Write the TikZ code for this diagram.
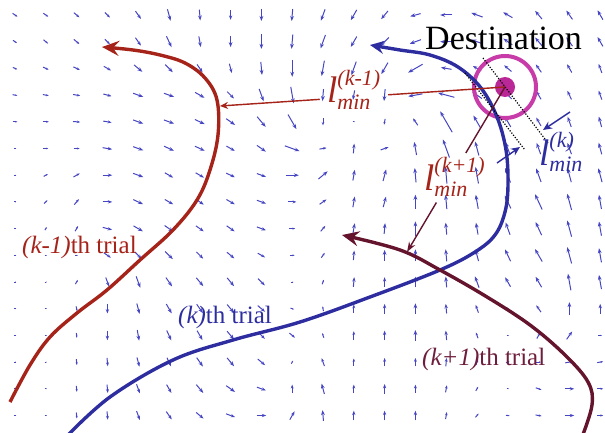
\documentclass[tikz,border=0pt]{standalone}
\usepackage{fontspec}
\setmainfont{Liberation Serif}
\usepackage{amsmath}
\usetikzlibrary{arrows.meta, calc}
\DeclareMathSizes{37}{37}{22}{16}
\definecolor{vecblue}{RGB}{70,70,195}
\definecolor{trialred}{RGB}{165,35,25}
\definecolor{trialblue}{RGB}{45,45,160}
\definecolor{trialplum}{RGB}{100,20,45}
\definecolor{plumtext}{RGB}{110,30,60}
\definecolor{destpink}{RGB}{200,60,170}
\definecolor{destdot}{RGB}{185,40,150}

\begin{document}
\begin{tikzpicture}[x=1pt, y=-1pt,
    trial/.style={line width=3.4pt},
    minline/.style={line width=1.4pt},
    lbl/.style={anchor=base west, inner sep=0pt, font=\fontsize{37}{40}\selectfont},
    triallbl/.style={anchor=base west, inner sep=0pt, font=\fontsize{25}{28}\selectfont}]
  \useasboundingbox (0,0) rectangle (605,433);

  \foreach \row [count=\j from 0] in {
    {-35/5,-35/5,-40/6,-45/6,-55/8,-75/10,-85/9,-90/8,-90/10,-95/10,-110/10,-120/10,-130/9,-165/9,180/10,160/10,150/9,130/9,125/9,120/9},
    {-35/4,-40/5,-40/6,-45/6,-55/8,-65/10,-80/9,-90/9,-90/12,-95/12,-110/12,-120/10,-135/10,-160/10,180/10,160/10,145/9,130/9,125/9,120/9},
    {-25/4,-25/5,-25/6,-30/7,-40/9,-45/9,-55/8,-75/8,-85/11,-90/14,-100/13,-110/12,-120/11,-150/14,170/9,150/8,140/8,125/8,120/8,110/8},
    {-10/4,-10/5,-10/6,-15/7,-20/9,-20/9,-30/9,-45/8,-70/11,-80/14,-95/10,-100/8,-95/10,-170/12,165/14,145/10,135/9,120/8,115/8,110/8},
    {0/4,0/5,-5/6,-10/7,-20/9,-20/9,-25/9,-35/9,-50/11,-60/14,-90/6,0/2,-100/5,125/7,120/20,120/12,120/10,120/8,110/9,105/9},
    {0/2,0/4,0/5,-10/8,-20/9,-25/9,-25/9,-30/8,-35/9,-20/13,10/6,85/8,20/7,100/11,110/16,105/12,110/11,110/10,110/10,105/10},
    {0/2,30/4,30/6,0/8,-20/9,-30/8,-30/8,-25/8,-20/8,0/11,40/10,80/9,75/10,95/12,95/14,100/14,110/13,110/12,105/12,105/12},
    {0/2,45/4,50/6,0/8,-25/9,-30/8,-35/8,-30/8,-20/8,0/7,35/7,80/9,75/9,90/12,95/12,100/12,115/12,115/14,105/14,100/12},
    {0/2,60/3,60/5,-15/8,-30/9,-35/9,-35/8,-35/8,-20/8,0/5,50/6,80/9,85/9,90/12,95/10,100/10,110/11,115/12,105/14,100/12},
    {0/2,0/2,0/2,-35/7,-45/8,-45/9,-45/8,-40/8,-30/7,0/4,55/5,85/8,90/9,90/10,95/10,105/10,115/11,120/12,105/14,100/12},
    {0/2,0/2,60/4,-70/8,-70/10,-55/9,-50/9,-50/9,-45/8,0/2,70/4,85/8,90/8,90/9,95/9,110/10,120/9,120/10,100/14,100/12},
    {0/2,0/2,-80/4,-90/8,-75/9,-60/9,-55/9,-50/9,-40/8,-20/3,100/4,90/7,90/8,90/9,95/8,110/7,150/4,125/7,90/11,90/8},
    {0/2,0/2,-85/4,-90/8,-80/9,-65/9,-60/9,-50/9,-45/8,-40/6,110/4,90/7,90/8,90/9,95/8,110/5,0/2,60/6,55/8,0/3},
    {0/2,0/2,-85/5,-85/7,-75/8,-65/8,-55/9,-50/9,-40/8,60/3,110/7,90/6,90/7,90/7,85/7,70/5,20/3,0/4,10/7,10/5},
    {0/2,0/2,-85/5,-85/7,-70/8,-60/8,-50/9,-35/9,-20/8,90/7,105/9,90/7,90/8,90/7,80/6,60/4,0/2,-20/5,0/8,0/5},
    {0/2,0/2,-85/5,-85/7,-70/8,-55/8,-40/8,-20/8,0/8,60/8,95/9,90/8,90/8,90/8,80/6,50/4,-5/3,-10/5,0/8,0/5}} {
    \foreach \ang/\len [count=\i from 0] in \row {
      \pgfmathsetmacro\h{0.6*\len}
      \pgfmathsetmacro\tl{min(5,0.55*\len)}
      \pgfmathsetmacro\tw{0.75*\tl}
      \draw[vecblue, line width=1pt, -{Stealth[length=\tl pt, width=\tw pt]}]
        ({15+30.8*\i},{15+26.7*\j}) +(\ang+180:\h pt) -- +(\ang:\h pt);
    }
  }

  \coordinate (dest) at (505,87);
  \coordinate (hitA) at (220,106);
  \coordinate (hitC) at (407,252);

  \draw[destpink, line width=4pt] (dest) circle[radius=31];
  \fill[destdot] (dest) circle[radius=10];

  \draw[trial, trialred, -{Stealth[length=17pt, width=15pt, inset=6pt]}]
    plot[smooth, tension=0.6] coordinates {(10,402) (30,365) (50,337) (77,313) (107,290) (140,260) (173,230)
      (197,200) (210,170) (218,135) (217,100) (205,78) (185,63) (160,55) (133,50) (102,47)};
  \draw[trial, trialblue, -{Stealth[length=14pt, width=13pt, inset=5pt]}]
    plot[smooth, tension=0.6] coordinates {(66,437) (110,397) (173,360) (233,340) (300,322) (370,297) (440,270)
      (475,252) (495,235) (505,212) (508,185) (506,150) (497,117) (481,88) (458,67) (430,55) (400,50) (370,45)};
  \draw[trial, trialplum, -{Stealth[length=17pt, width=15pt, inset=6pt]}]
    plot[smooth, tension=0.6] coordinates {(582,437) (592,405) (588,382) (565,355) (530,325) (487,297)
      (440,270) (400,250) (342,235)};

  \draw[dash pattern=on 1.2pt off 1.6pt, line width=1.2pt] (465,73) -- (525,150);
  \draw[dash pattern=on 1.2pt off 1.6pt, line width=1.2pt] (483,58) -- (548,143);
  \draw[trialblue, minline, -{Stealth[length=9pt, width=8pt]}] (497,163) -- (520,147);
  \draw[trialblue, minline, -{Stealth[length=9pt, width=8pt]}] (570,112) -- (543,130);

  \node[anchor=base west, inner sep=0pt, font=\fontsize{34}{38}\selectfont] (destlbl) at (425,50) {Destination};

  \node[lbl, text=trialred] (lkm) at (327,103) {$\textit{l}^{\textit{(k-1)}}_{\textit{min}}$};
  \node[lbl, text=trialred] (lkp) at (424,190) {$\textit{l}^{\textit{(k+1)}}_{\textit{min}}$};
  \node[lbl, text=trialblue] (lk) at (539,165) {$\textit{l}^{\textit{(k)}}_{\textit{min}}$};

  \draw[trialred, minline] (dest) -- ($(dest)!0.41!(hitA)$);
  \draw[trialred, minline, -{Stealth[length=8pt, width=7pt]}] ($(dest)!0.65!(hitA)$) -- (hitA);
  \draw[trialplum, minline] (dest) -- ($(dest)!0.40!(hitC)$);
  \draw[trialplum, minline, -{Stealth[length=10pt, width=7pt]}] ($(dest)!0.70!(hitC)$) -- (hitC);

  \node[triallbl, text=trialred] (lblkm) at (22,253) {\textit{(k-1)}th trial};
  \node[triallbl, text=trialblue] (lblk) at (178,323) {\textit{(k)}th trial};
  \node[triallbl, text=plumtext] (lblkp) at (422,365) {\textit{(k+1)}th trial};
\end{tikzpicture}
\end{document}
